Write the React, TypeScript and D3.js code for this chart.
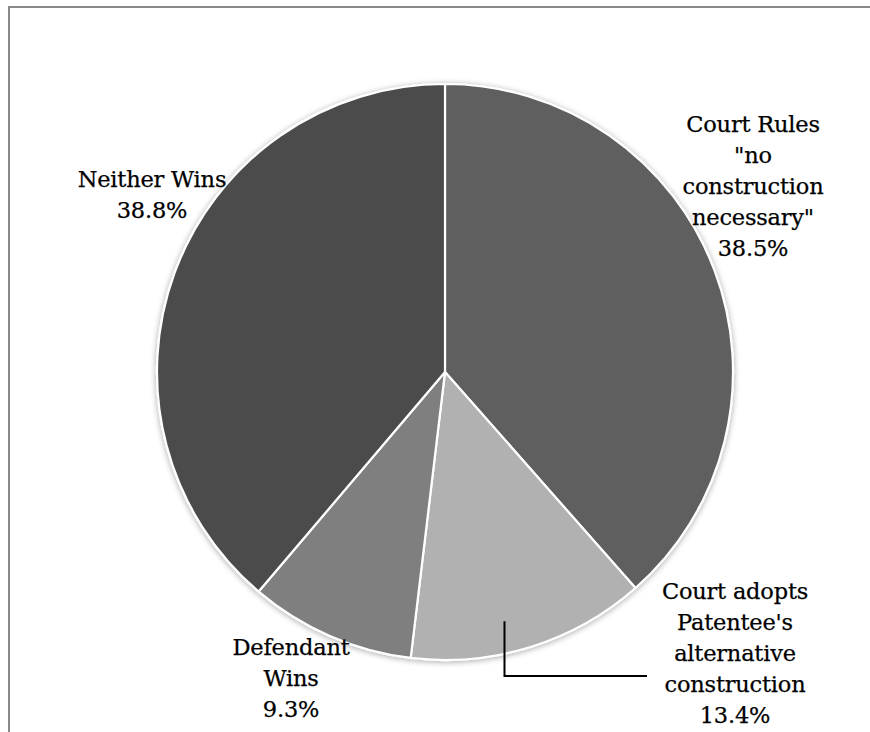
import React from "react";
import * as d3 from "d3";

const categories = [
  "Court Rules \"no construction necessary\"",
  "Court adopts Patentee's alternative construction",
  "Defendant Wins",
  "Neither Wins",
];
const values = [38.5, 13.4, 9.3, 38.8];
const percentLabels = ["38.5%", "13.4%", "9.3%", "38.8%"];
const labelLines = [
  ["Court Rules", "\"no", "construction", "necessary\""],
  ["Court adopts", "Patentee's", "alternative", "construction"],
  ["Defendant", "Wins"],
  ["Neither Wins"],
];
const colors = ["#5e5e5e", "#b1b1b1", "#7f7f7f", "#4b4b4b"];

const W = 870;
const H = 732;
const cx = 445;
const cy = 372;
const R = 288;

// label layout (center x, first baseline y)
const labelPos = [
  { x: 753, y: 132 },
  { x: 735, y: 599 },
  { x: 291, y: 655 },
  { x: 152, y: 187 },
];
const lineH = 31;

export default function App() {
  const pie = d3
    .pie<number>()
    .sort(null)
    .value((d) => d)(values);
  const arc = d3.arc<d3.PieArcDatum<number>>().innerRadius(0).outerRadius(R);

  // leader for Court adopts slice
  const s = pie[1];
  const ang = s.startAngle + (s.endAngle - s.startAngle) * 0.58;
  const lr = R * 0.89;
  const lx = cx + lr * Math.sin(ang);
  const ly = cy - lr * Math.cos(ang);
  const elbowY = 676;
  const endX = 647;

  return (
    <svg
      width={W}
      height={H}
      style={{ position: "absolute", left: 0, top: 0, background: "#fff" }}
      fontFamily="'DejaVu Serif', serif"
    >
      <defs>
        <filter id="sh" x="-10%" y="-10%" width="120%" height="120%">
          <feGaussianBlur in="SourceAlpha" stdDeviation="3" />
          <feOffset dx="0" dy="1" result="b" />
          <feComponentTransfer>
            <feFuncA type="linear" slope="0.35" />
          </feComponentTransfer>
          <feMerge>
            <feMergeNode />
            <feMergeNode in="SourceGraphic" />
          </feMerge>
        </filter>
      </defs>
      <rect x={9} y={7} width={W + 20} height={H + 20} fill="#fff" stroke="#8a8a8a" strokeWidth={2} />
      <g transform={`translate(${cx},${cy})`} filter="url(#sh)">
        {pie.map((d, i) => (
          <path key={categories[i]} d={arc(d) || ""} fill={colors[i]} stroke="#fff" strokeWidth={2.2} strokeLinejoin="round" />
        ))}
      </g>
      <polyline
        points={`${lx},${ly} ${lx},${elbowY} ${endX},${elbowY}`}
        fill="none"
        stroke="#000"
        strokeWidth={2}
      />
      {labelLines.map((lines, i) => {
        const all = [...lines, percentLabels[i]];
        return (
          <text key={i} fontSize={22.5} fill="#000" stroke="#000" strokeWidth={0.25} textAnchor="middle" letterSpacing={-0.2}>
            {all.map((t, j) => (
              <tspan key={j} x={labelPos[i].x} y={labelPos[i].y + j * lineH}>
                {t}
              </tspan>
            ))}
          </text>
        );
      })}
    </svg>
  );
}
